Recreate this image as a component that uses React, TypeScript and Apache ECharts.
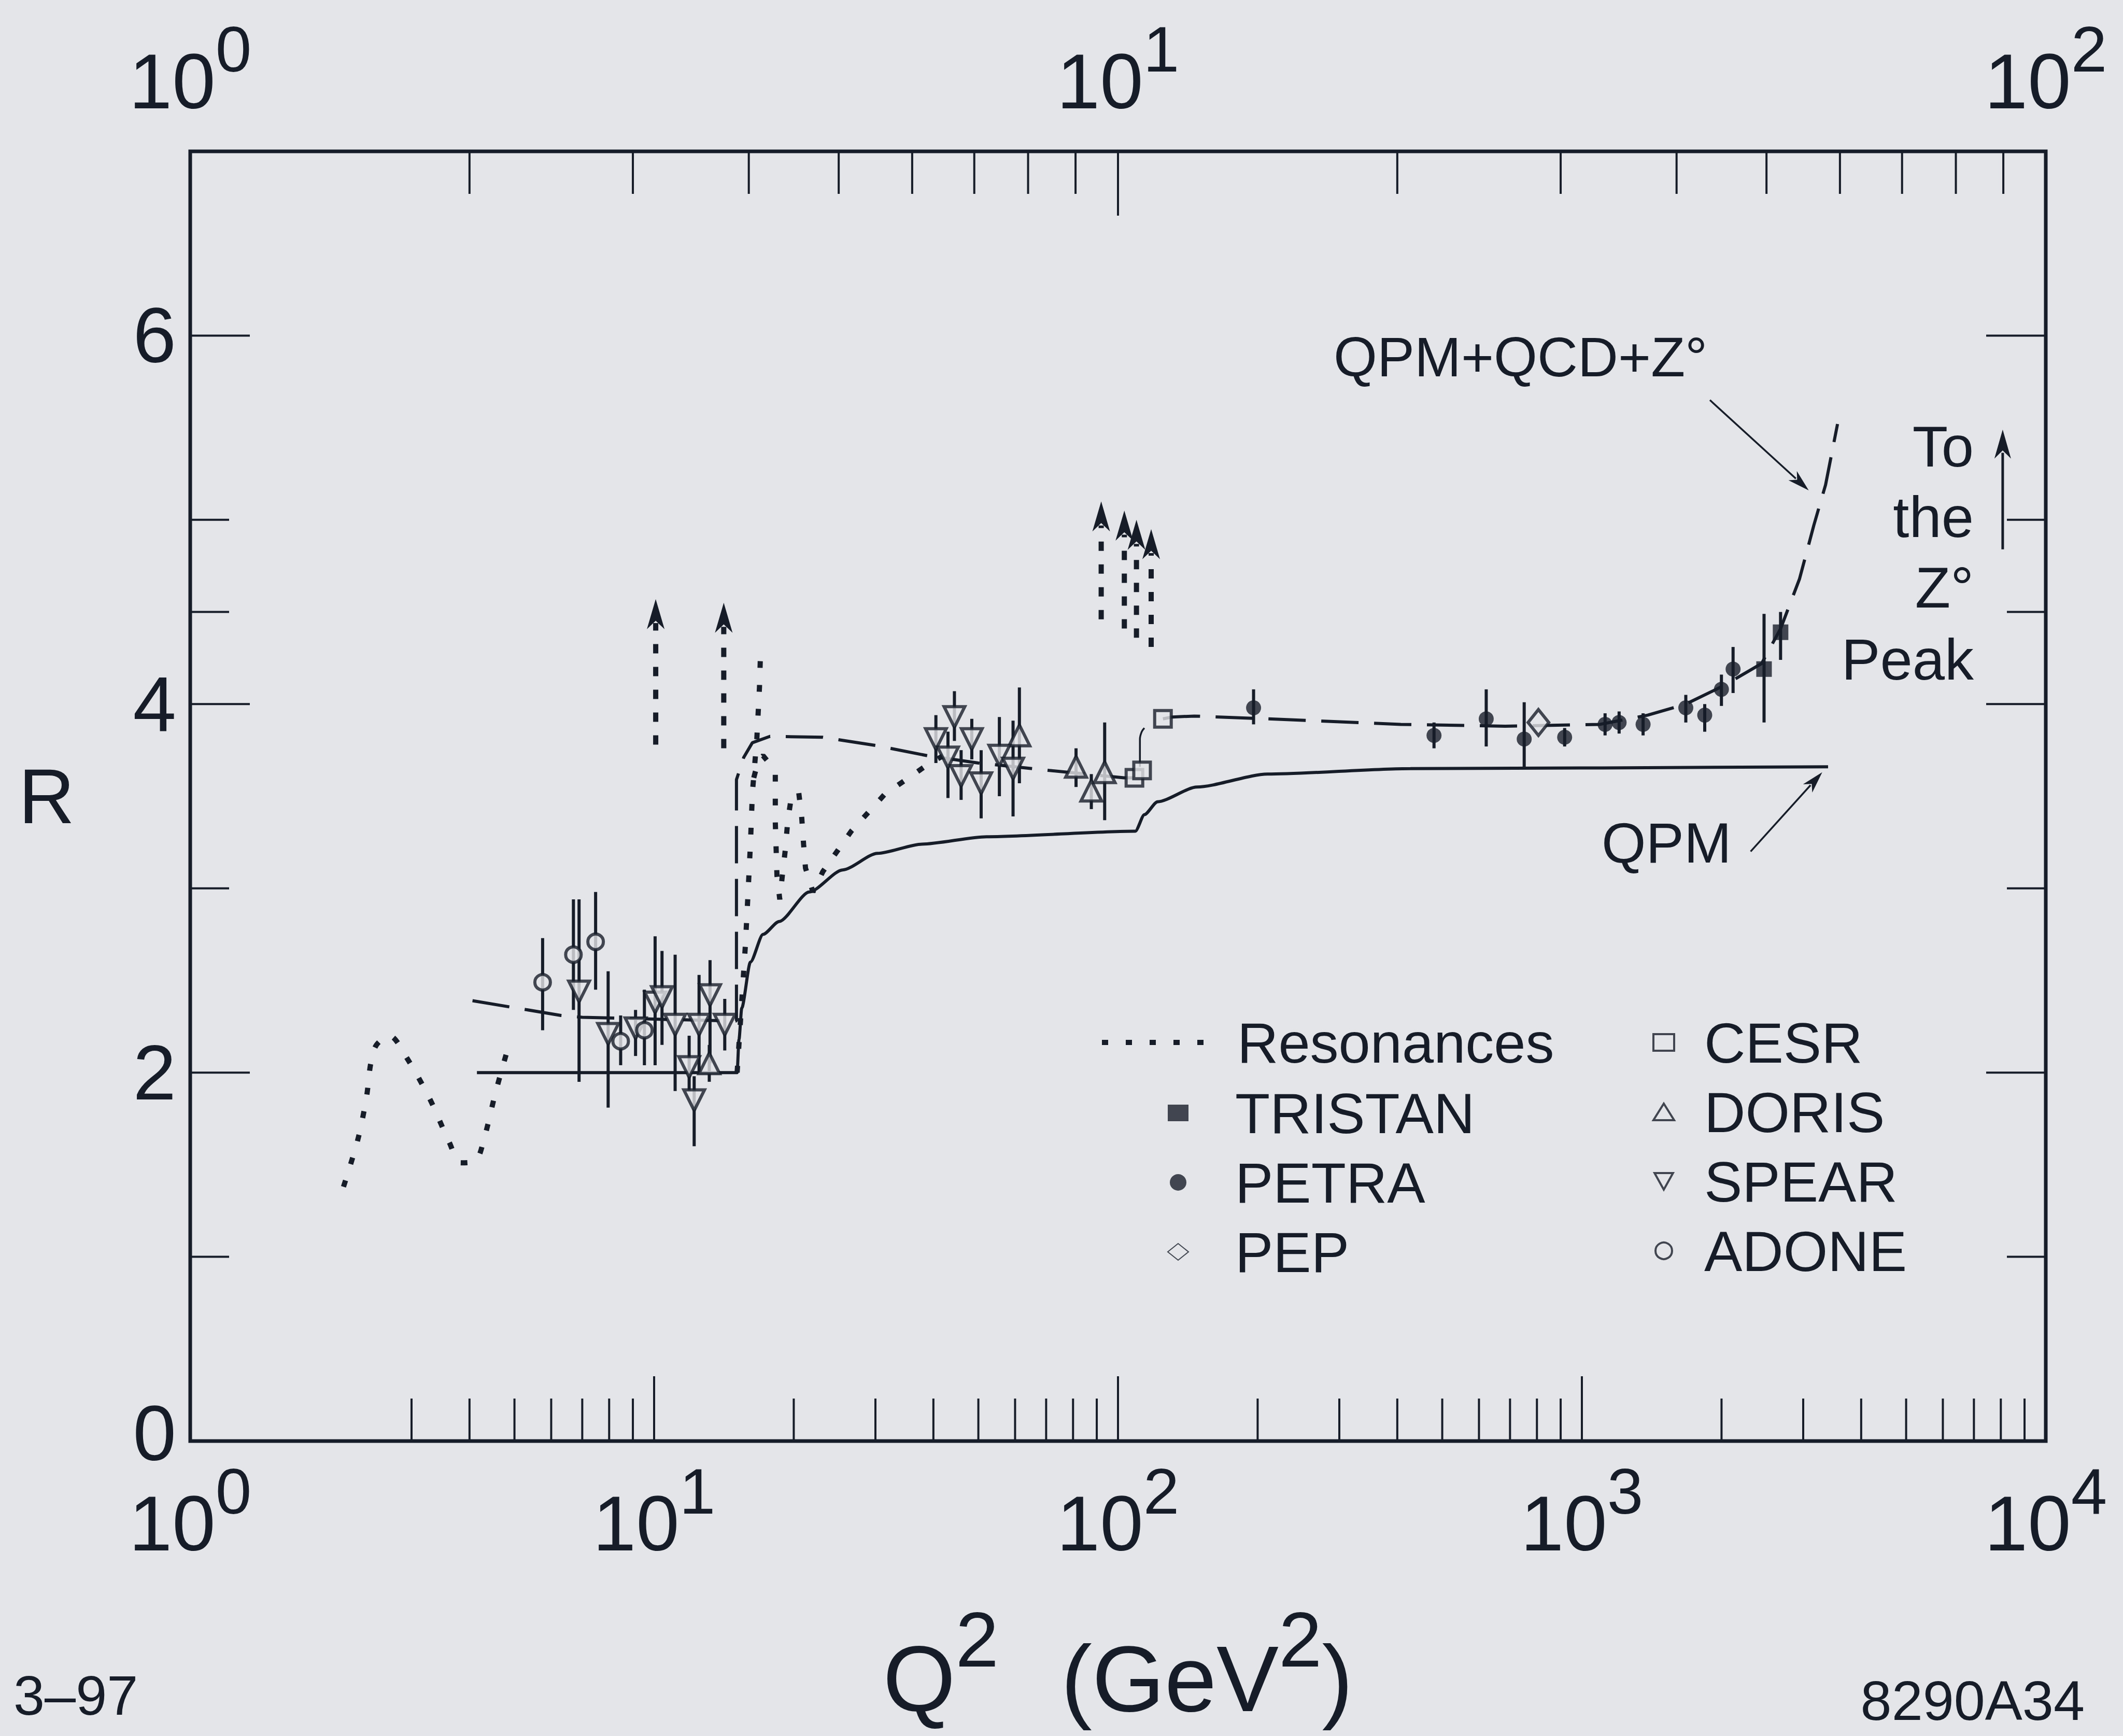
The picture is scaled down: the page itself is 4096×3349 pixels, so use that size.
import React, { useEffect, useRef } from 'react';
import * as echarts from 'echarts';

const W = 4096;
const H = 3349;
const INK = '#171d28';
const PAPER = '#e3e5e8';
const FONT = '"Liberation Sans", Arial, Helvetica, sans-serif';

// ---------- axes ----------
const X_DECADES = [1, 10, 100, 1000, 10000];
const X_EXPONENTS = ['0', '1', '2', '3', '4'];
const TOP_DECADES = [1, 10, 100];
const TOP_EXPONENTS = ['0', '1', '2'];
const Y_TICK_LABELS = ['0', '2', '4', '6'];

const BOTTOM_MAJOR_TICKS = [10, 100, 1000];
const BOTTOM_MINOR_TICKS = [3, 4, 5, 6, 7, 8, 9, 20, 30, 40, 50, 60, 70, 80, 90, 200, 300, 400, 500, 600, 700, 800, 900, 2000, 3000, 4000, 5000, 6000, 7000, 8000, 9000];
const TOP_MAJOR_TICKS = [10];
const TOP_MINOR_TICKS = [2, 3, 4, 5, 6, 7, 8, 9, 20, 30, 40, 50, 60, 70, 80, 90];
const Y_MAJOR_TICKS = [2, 4, 6];
const Y_MINOR_TICKS = [1, 3, 4.5, 5];

// ---------- curves ----------
const RES_LOW_Q2 = [2.14, 2.30, 2.40, 2.45, 2.52, 2.69, 2.93, 3.28, 3.62, 3.83, 4.12, 4.30, 4.55, 4.85];
const RES_LOW_R = [1.38, 1.64, 1.87, 2.05, 2.15, 2.20, 2.08, 1.86, 1.62, 1.51, 1.52, 1.64, 1.89, 2.14];
const RES_RISE_Q2 = [15.1, 15.73, 15.93, 16.13, 16.29, 16.65, 16.87, 16.95];
const RES_RISE_R = [2.0, 2.69, 2.96, 3.24, 3.52, 3.81, 4.09, 4.26];
const RES_CHARM_Q2 = [16.4, 16.8, 17.17, 17.7, 18.25, 18.25, 18.4, 18.66, 18.9, 19.2, 19.4, 19.8, 20.5, 20.8, 21.0, 21.2, 22.0, 23.1, 26.6, 31.4, 38.8, 42];
const RES_CHARM_R = [3.60, 3.70, 3.72, 3.68, 3.62, 3.36, 3.07, 2.94, 3.07, 3.22, 3.36, 3.51, 3.52, 3.39, 3.24, 3.11, 2.98, 3.09, 3.31, 3.51, 3.67, 3.72];

const RES_ARROW_Q2 = [10.08, 14.13, 92, 103.2, 109.6, 117.9];
const RES_ARROW_BASE_R = [3.78, 3.76, 4.46, 4.41, 4.36, 4.31];
const RES_ARROW_TIP_R = [4.57, 4.55, 5.10, 5.05, 5.00, 4.95];

const QCD_A_Q2 = [4.06, 6.3, 7.0, 10, 14.9, 15.05, 15.05, 15.6, 16.28, 17.78, 23.1, 30.1, 38.8, 50, 71.1, 103, 108.5];
const QCD_A_R = [2.39, 2.31, 2.30, 2.29, 2.28, 2.28, 3.59, 3.71, 3.79, 3.825, 3.82, 3.775, 3.72, 3.68, 3.64, 3.60, 3.60];
const QCD_LINK_Q2 = [111.5, 111.5, 112.5, 114];
const QCD_LINK_R = [3.66, 3.81, 3.85, 3.87];
const QCD_B_Q2 = [125, 131, 146, 210, 407, 683, 1094, 1386, 1675, 2022, 2440, 2682, 2946, 3162, 3352, 3557];
const QCD_B_R = [3.92, 3.93, 3.935, 3.92, 3.89, 3.88, 3.89, 3.94, 4.00, 4.10, 4.22, 4.41, 4.68, 4.97, 5.19, 5.52];

const QPM_Q2 = [4.15, 15.1, 15.24, 15.45, 16.13, 17.17, 18.6, 21.6, 25.5, 30.3, 37.8, 52.1, 109, 114, 121.7, 148, 210, 427, 3394];
const QPM_R = [2.0, 2.0, 2.18, 2.35, 2.60, 2.75, 2.82, 2.98, 3.10, 3.19, 3.24, 3.28, 3.31, 3.40, 3.47, 3.55, 3.62, 3.65, 3.66];

// ---------- data ----------
const ADONE_Q2 = [5.75, 6.70, 7.48, 8.47, 9.53];
const ADONE_R = [2.49, 2.64, 2.71, 2.17, 2.23];
const ADONE_LO = [2.23, 2.34, 2.45, 2.04, 2.04];
const ADONE_HI = [2.73, 2.94, 2.98, 2.31, 2.45];

const SPEAR_Q2 = [6.89, 7.96, 9.12, 10.05, 10.4, 11.1, 11.9, 12.2, 12.5, 13.2, 14.2, 40.5, 43.0, 44.4, 45.9, 48.4, 50.7, 55.5, 59.4];
const SPEAR_R = [2.44, 2.21, 2.24, 2.38, 2.41, 2.26, 2.03, 1.85, 2.26, 2.42, 2.26, 3.81, 3.71, 3.93, 3.61, 3.81, 3.57, 3.72, 3.65];
const SPEAR_LO = [1.95, 1.81, 2.09, 2.04, 2.15, 1.90, 1.90, 1.60, 2.00, 2.05, 2.12, 3.68, 3.49, 3.80, 3.48, 3.70, 3.38, 3.50, 3.39];
const SPEAR_HI = [2.94, 2.55, 2.34, 2.74, 2.66, 2.64, 2.20, 1.98, 2.53, 2.61, 2.40, 3.94, 3.85, 4.07, 3.75, 3.92, 3.75, 3.93, 3.91];

const DORIS_Q2 = [13.15, 61.3, 81.2, 87.6, 93.6];
const DORIS_R = [2.05, 3.83, 3.66, 3.53, 3.63];
const DORIS_LO = [1.95, 3.57, 3.55, 3.43, 3.37];
const DORIS_HI = [2.15, 4.09, 3.76, 3.62, 3.90];

const CESR_Q2 = [108.5, 112.7, 125];
const CESR_R = [3.60, 3.64, 3.92];

const PETRA_Q2 = [196, 480, 622, 751, 918, 1122, 1203, 1355, 1675, 1840, 1999, 2118];
const PETRA_R = [3.98, 3.83, 3.92, 3.81, 3.82, 3.89, 3.90, 3.89, 3.98, 3.94, 4.08, 4.19];
const PETRA_LO = [3.89, 3.76, 3.77, 3.66, 3.77, 3.83, 3.84, 3.83, 3.90, 3.85, 3.99, 4.06];
const PETRA_HI = [4.08, 3.90, 4.08, 4.01, 3.87, 3.95, 3.96, 3.95, 4.05, 4.00, 4.16, 4.31];

const PEP_Q2 = [806];
const PEP_R = [3.90];

const TRISTAN_Q2 = [2470, 2681];
const TRISTAN_R = [4.19, 4.39];
const TRISTAN_LO = [3.90, 4.24];
const TRISTAN_HI = [4.49, 4.50];

// ---------- annotation arrows (data space) ----------
const NOTE_ARROW_FROM_Q2 = [1888, 2311];
const NOTE_ARROW_FROM_R = [5.65, 3.20];
const NOTE_ARROW_TO_Q2 = [3083, 3297];
const NOTE_ARROW_TO_R = [5.16, 3.63];
const ZPEAK_ARROW_Q2 = [8075];
const ZPEAK_ARROW_FROM_R = [4.84];
const ZPEAK_ARROW_TO_R = [5.49];

const LEGEND_COL1_A = ['Resonances'];
const LEGEND_COL1_B = ['TRISTAN', 'PETRA', 'PEP'];
const LEGEND_COL2 = ['CESR', 'DORIS', 'SPEAR', 'ADONE'];

const DOWN_TRIANGLE = 'path://M0,0L20,0L10,18Z';

const zip = (a: number[], b: number[]) => a.map((v, i) => [v, b[i]]);

function arrowGroup(p0: number[], p1: number[], len: number, width: number, lw: number, dash?: number[]) {
  const dx = p1[0] - p0[0];
  const dy = p1[1] - p0[1];
  const L = Math.hypot(dx, dy) || 1;
  const ux = dx / L, uy = dy / L;
  const nx = -uy, ny = ux;
  const bx = p1[0] - ux * len, by = p1[1] - uy * len;
  const kx = p1[0] - ux * len * 0.72, ky = p1[1] - uy * len * 0.72;
  const ex = p1[0] - ux * len * 0.8, ey = p1[1] - uy * len * 0.8;
  const lineStyle: any = { stroke: INK, lineWidth: lw };
  if (dash) lineStyle.lineDash = dash;
  return {
    type: 'group',
    children: [
      { type: 'line', shape: { x1: p0[0], y1: p0[1], x2: ex, y2: ey }, style: lineStyle },
      {
        type: 'polygon',
        shape: { points: [[p1[0], p1[1]], [bx + nx * width / 2, by + ny * width / 2], [kx, ky], [bx - nx * width / 2, by - ny * width / 2]] },
        style: { fill: INK },
      },
    ],
  };
}

function tickSeries(values: number[], axis: 'bottom' | 'top' | 'y', len: number) {
  return {
    type: 'custom',
    silent: true,
    z: 10,
    xAxisIndex: axis === 'top' ? 1 : 0,
    yAxisIndex: 0,
    data: axis === 'y' ? values.map((v) => [1, v]) : values.map((v) => [v, 0]),
    renderItem: (params: any, api: any) => {
      const cs = params.coordSys;
      const st = { stroke: INK, lineWidth: 4 };
      if (axis === 'y') {
        const y = api.coord([1, api.value(1)])[1];
        return {
          type: 'group',
          children: [
            { type: 'line', shape: { x1: cs.x, y1: y, x2: cs.x + len, y2: y }, style: st },
            { type: 'line', shape: { x1: cs.x + cs.width - len, y1: y, x2: cs.x + cs.width, y2: y }, style: st },
          ],
        };
      }
      const x = api.coord([api.value(0), 0])[0];
      if (axis === 'bottom') {
        const b = cs.y + cs.height;
        return { type: 'line', shape: { x1: x, y1: b, x2: x, y2: b - len }, style: st };
      }
      return { type: 'line', shape: { x1: x, y1: cs.y, x2: x, y2: cs.y + len }, style: st };
    },
  };
}

function errorBars(q2: number[], lo: number[], hi: number[]) {
  return {
    type: 'custom',
    silent: true,
    z: 3,
    data: q2.map((q, i) => [q, lo[i], hi[i]]),
    encode: { x: 0, y: [1, 2] },
    renderItem: (params: any, api: any) => {
      const a = api.coord([api.value(0), api.value(1)]);
      const b = api.coord([api.value(0), api.value(2)]);
      return { type: 'line', shape: { x1: a[0], y1: a[1], x2: b[0], y2: b[1] }, style: { stroke: INK, lineWidth: 6 } };
    },
  };
}

const RICH = {
  m: { fontFamily: FONT, fontSize: 150, lineHeight: 100, color: INK, verticalAlign: 'bottom' },
  s: { fontFamily: FONT, fontSize: 125, lineHeight: 100, color: INK, verticalAlign: 'bottom', padding: [0, 0, 75, 0] },
};

const TITLE_RICH = {
  m: { fontFamily: FONT, fontSize: 180, lineHeight: 180, color: INK, verticalAlign: 'bottom' },
  s: { fontFamily: FONT, fontSize: 150, lineHeight: 150, color: INK, verticalAlign: 'bottom', padding: [0, 0, 90, 0] },
  g: { fontFamily: FONT, fontSize: 180, lineHeight: 180, width: 120, verticalAlign: 'bottom' },
};

const Y_RICH = {
  z: { fontFamily: FONT, fontSize: 150, color: INK, padding: [0, 0, 30, 0] },
};

function powLabel(decades: number[], exps: string[]) {
  return (v: number) => {
    const i = decades.findIndex((d) => Math.abs(Math.log10(d) - Math.log10(v)) < 1e-6);
    return i < 0 ? '' : `{m|10}{s|${exps[i]}}`;
  };
}

const openSym = { color: PAPER, borderColor: INK, borderWidth: 6 };

function text(str: string, x: number, baseline: number, size: number, align: string) {
  return {
    type: 'text',
    x,
    y: baseline - 0.3465 * size,
    silent: true,
    style: { text: str, fontFamily: FONT, fontSize: size, fill: INK, align, textAlign: align, verticalAlign: 'middle', textVerticalAlign: 'middle' },
  };
}

function buildOption(): any {
  const legendText = (pad: number) => ({ fontFamily: FONT, fontSize: 110, lineHeight: 120, color: INK, padding: [0, 0, 0, pad] });
  const resStyle = { color: INK, width: 10, type: [13, 33], cap: 'butt' };
  return {
    animation: false,
    backgroundColor: PAPER,
    textStyle: { fontFamily: FONT, color: INK },
    grid: { left: 367, right: 149, top: 292, bottom: 569, show: true, borderColor: INK, borderWidth: 7, backgroundColor: 'transparent' },
    xAxis: [
      {
        type: 'log', logBase: 10, min: 1, max: 10000, position: 'bottom',
        axisLine: { show: false }, axisTick: { show: false }, splitLine: { show: false }, minorTick: { show: false },
        axisLabel: { margin: 134, formatter: powLabel(X_DECADES, X_EXPONENTS), rich: RICH, showMinLabel: true, showMaxLabel: true },
        name: '{m|Q}{s|2}{g|}{m|(GeV}{s|2}{m|)}',
        nameLocation: 'middle', nameGap: 368,
        nameTextStyle: { rich: TITLE_RICH },
      },
      {
        type: 'log', logBase: 10, min: 1, max: 100, position: 'top',
        axisLine: { show: false }, axisTick: { show: false }, splitLine: { show: false }, minorTick: { show: false },
        axisLabel: { margin: 60, formatter: powLabel(TOP_DECADES, TOP_EXPONENTS), rich: RICH, showMinLabel: true, showMaxLabel: true },
      },
    ],
    yAxis: {
      type: 'value', min: 0, max: 7, interval: 1,
      axisLine: { show: false }, axisTick: { show: false }, splitLine: { show: false },
      axisLabel: {
        margin: 27, fontSize: 150, lineHeight: 110, fontFamily: FONT, color: INK, rich: Y_RICH,
        formatter: (v: number) => {
          const s = String(v);
          if (!Y_TICK_LABELS.includes(s)) return '';
          return v === 0 ? `{z|${s}}` : s;
        },
      },
      name: 'R', nameLocation: 'middle', nameRotate: 0, nameGap: 223,
      nameTextStyle: { fontSize: 150, fontFamily: FONT, color: INK, padding: [100, 0, 0, 0] },
    },
    legend: [
      {
        data: LEGEND_COL1_A, orient: 'vertical', left: 2121, top: 1951, padding: 0, itemGap: 14, itemWidth: 199, itemHeight: 32,
        selectedMode: false, textStyle: legendText(57),
        itemStyle: { color: 'rgba(0,0,0,0)', borderWidth: 0 },
        lineStyle: { color: INK, width: 10, type: [12, 34], cap: 'butt' },
      },
      {
        data: LEGEND_COL1_B, orient: 'vertical', left: 2252, top: 2087, padding: 0, itemGap: 14, itemWidth: 40, itemHeight: 32,
        selectedMode: false, textStyle: legendText(85),
      },
      {
        data: LEGEND_COL2.map((n) => (n === 'SPEAR' ? { name: n, icon: DOWN_TRIANGLE } : { name: n })),
        orient: 'vertical', left: 3188, top: 1951, padding: 0, itemGap: 14, itemWidth: 40, itemHeight: 32,
        selectedMode: false, textStyle: legendText(53),
        itemStyle: { borderWidth: 4 },
      },
    ],
    graphic: [
      text('QPM+QCD+Z°', 2573, 726, 108, 'left'),
      text('QPM', 3090, 1664, 110, 'left'),
      text('To', 3808, 900, 112, 'right'),
      text('the', 3808, 1036, 112, 'right'),
      text('Z°', 3808, 1172, 112, 'right'),
      text('Peak', 3808, 1311, 112, 'right'),
      text('3–97', 26, 3308, 108, 'left'),
      text('8290A34', 4022, 3318, 108, 'right'),
    ],
    series: [
      tickSeries(BOTTOM_MINOR_TICKS, 'bottom', 82),
      tickSeries(BOTTOM_MAJOR_TICKS, 'bottom', 125),
      tickSeries(TOP_MINOR_TICKS, 'top', 82),
      tickSeries(TOP_MAJOR_TICKS, 'top', 124),
      tickSeries(Y_MINOR_TICKS, 'y', 75),
      tickSeries(Y_MAJOR_TICKS, 'y', 115),
      // curves
      { name: 'Resonances', type: 'line', data: zip(RES_LOW_Q2, RES_LOW_R), symbol: 'none', z: 2, smooth: 0.3, lineStyle: resStyle, itemStyle: { color: INK } },
      { name: 'Resonances', type: 'line', data: zip(RES_RISE_Q2, RES_RISE_R), symbol: 'none', z: 2, lineStyle: resStyle },
      { name: 'Resonances', type: 'line', data: zip(RES_CHARM_Q2, RES_CHARM_R), symbol: 'none', z: 2, lineStyle: resStyle },
      {
        type: 'custom', silent: true, z: 2,
        data: RES_ARROW_Q2.map((q, i) => [q, RES_ARROW_BASE_R[i], RES_ARROW_TIP_R[i]]),
        encode: { x: 0, y: [1, 2] },
        renderItem: (params: any, api: any) => {
          const b = api.coord([api.value(0), api.value(1)]);
          const t = api.coord([api.value(0), api.value(2)]);
          return arrowGroup(b, t, 58, 34, 10, [18, 26]);
        },
      },
      { type: 'line', data: zip(QCD_A_Q2, QCD_A_R), symbol: 'none', z: 2, silent: true, lineStyle: { color: INK, width: 6, type: [72, 30], cap: 'butt' } },
      { type: 'line', data: zip(QCD_LINK_Q2, QCD_LINK_R), symbol: 'none', z: 2, silent: true, smooth: 0.4, lineStyle: { color: INK, width: 3.5 } },
      { type: 'line', data: zip(QCD_B_Q2, QCD_B_R), symbol: 'none', z: 2, silent: true, lineStyle: { color: INK, width: 6, type: [72, 30], cap: 'butt' } },
      { type: 'line', data: zip(QPM_Q2, QPM_R), symbol: 'none', z: 2, silent: true, smooth: 0.25, smoothMonotone: 'x', lineStyle: { color: INK, width: 6 } },
      {
        type: 'custom', silent: true, z: 4,
        data: NOTE_ARROW_FROM_Q2.map((q, i) => [q, NOTE_ARROW_FROM_R[i], NOTE_ARROW_TO_Q2[i], NOTE_ARROW_TO_R[i]]),
        encode: { x: [0, 2], y: [1, 3] },
        renderItem: (params: any, api: any) => {
          const a = api.coord([api.value(0), api.value(1)]);
          const b = api.coord([api.value(2), api.value(3)]);
          return arrowGroup(a, b, 42, 24, 3.5);
        },
      },
      {
        type: 'custom', silent: true, z: 4,
        data: ZPEAK_ARROW_Q2.map((q, i) => [q, ZPEAK_ARROW_FROM_R[i], ZPEAK_ARROW_TO_R[i]]),
        encode: { x: 0, y: [1, 2] },
        renderItem: (params: any, api: any) => {
          const a = api.coord([api.value(0), api.value(1)]);
          const b = api.coord([api.value(0), api.value(2)]);
          return arrowGroup(a, b, 56, 32, 5);
        },
      },
      // error bars
      errorBars(ADONE_Q2, ADONE_LO, ADONE_HI),
      errorBars(SPEAR_Q2, SPEAR_LO, SPEAR_HI),
      errorBars(DORIS_Q2, DORIS_LO, DORIS_HI),
      errorBars(PETRA_Q2, PETRA_LO, PETRA_HI),
      errorBars(TRISTAN_Q2, TRISTAN_LO, TRISTAN_HI),
      // markers
      { name: 'TRISTAN', type: 'scatter', z: 5, data: zip(TRISTAN_Q2, TRISTAN_R), symbol: 'rect', symbolSize: 30, itemStyle: { color: INK } },
      { name: 'PETRA', type: 'scatter', z: 5, data: zip(PETRA_Q2, PETRA_R), symbol: 'circle', symbolSize: 29, itemStyle: { color: INK } },
      { name: 'PEP', type: 'scatter', z: 5, data: zip(PEP_Q2, PEP_R), symbol: 'diamond', symbolSize: [40, 50], itemStyle: openSym },
      { name: 'CESR', type: 'scatter', z: 5, data: zip(CESR_Q2, CESR_R), symbol: 'rect', symbolSize: 32, itemStyle: openSym },
      { name: 'DORIS', type: 'scatter', z: 5, data: zip(DORIS_Q2, DORIS_R), symbol: 'triangle', symbolSize: 40, itemStyle: openSym },
      { name: 'SPEAR', type: 'scatter', z: 5, data: zip(SPEAR_Q2, SPEAR_R), symbol: 'triangle', symbolRotate: 180, symbolSize: 40, itemStyle: openSym },
      { name: 'ADONE', type: 'scatter', z: 5, data: zip(ADONE_Q2, ADONE_R), symbol: 'circle', symbolSize: 30, itemStyle: openSym },
    ],
  };
}

export default function App() {
  const ref = useRef<HTMLDivElement>(null);
  useEffect(() => {
    const chart = echarts.init(ref.current as HTMLDivElement, null, { renderer: 'svg' });
    chart.setOption(buildOption());
    return () => chart.dispose();
  }, []);
  return <div ref={ref} style={{ position: 'absolute', left: 0, top: 0, width: W, height: H, background: PAPER }} />;
}
